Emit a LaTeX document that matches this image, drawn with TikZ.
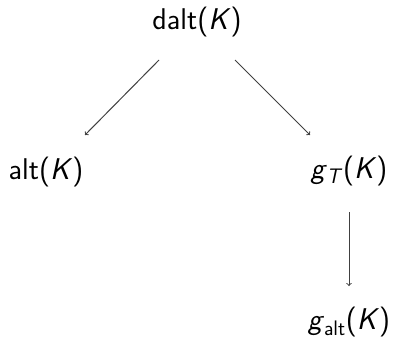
\documentclass[tikz,border=0pt]{standalone}
\usepackage{fontspec}
\usetikzlibrary{arrows}
\newcommand{\mK}{\textit{K}}
\tikzset{
  lbl/.style={font=\sffamily\fontsize{30}{36}\selectfont, inner sep=0pt, anchor=base},
  mapto/.style={draw=black!75, line width=1pt, -to}
}
\begin{document}
\begin{tikzpicture}[x=1pt, y=-1pt]
  \useasboundingbox (0,0) rectangle (394,340);
  \node[lbl] (dalt) at (197,29) {dalt(\mK)};
  \node[lbl] (alt) at (46,179) {alt(\mK)};
  \node[lbl] (gT) at (349,178) {\textit{g}\textsubscript{\textit{T}}(\mK)};
  \node[lbl] (galt) at (349,329) {\textit{g}\textsubscript{alt}(\mK)};
  \coordinate (a1) at (159,60);
  \coordinate (a2) at (85,135);
  \coordinate (b1) at (235,60);
  \coordinate (b2) at (310,135);
  \coordinate (c1) at (349,212);
  \coordinate (c2) at (349,286);
  \draw[mapto] (a1) -- (a2);
  \draw[mapto] (b1) -- (b2);
  \draw[mapto] (c1) -- (c2);
\end{tikzpicture}
\end{document}
